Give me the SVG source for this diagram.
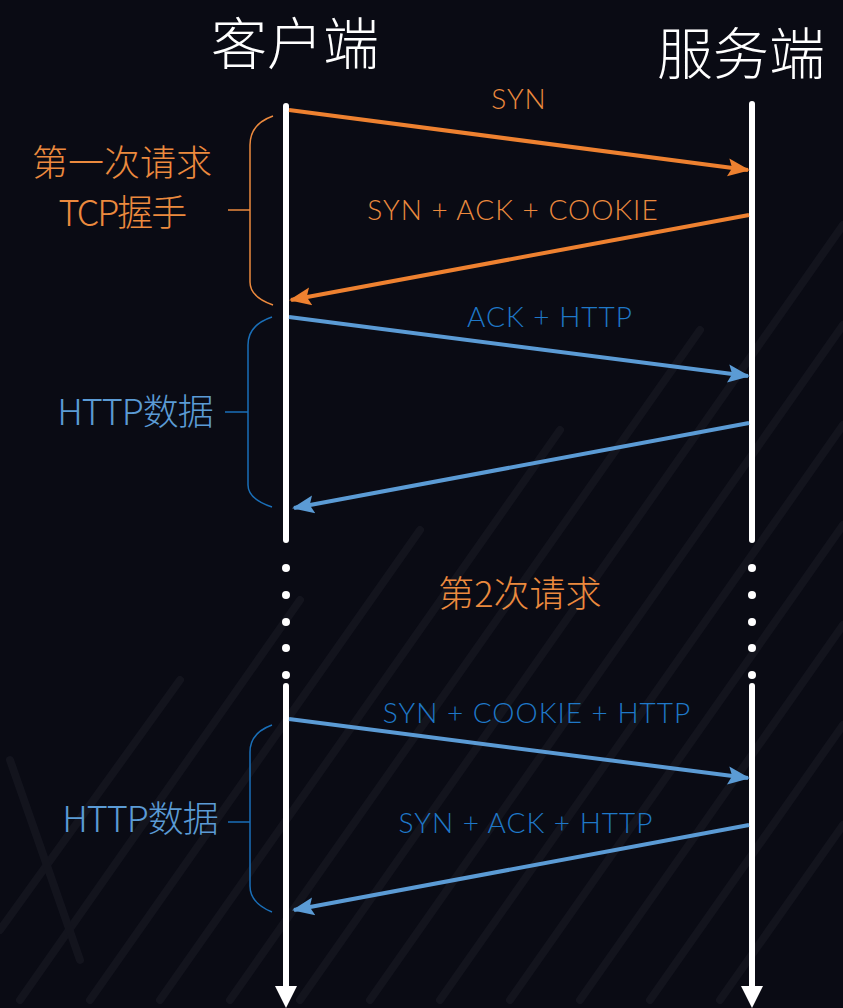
<svg xmlns="http://www.w3.org/2000/svg" width="843" height="1008" viewBox="0 0 843 1008">
<defs>
<style>
.title{font-family:"Noto Sans CJK SC","Noto Sans",sans-serif;font-weight:300;font-size:56px;fill:#ffffff}
.lbl{font-family:"Lato","Liberation Sans",sans-serif;font-weight:300;font-size:28px;letter-spacing:1px}
.cj{font-family:"Noto Sans CJK SC",sans-serif;font-weight:300;font-size:36px}
.or{fill:#ec8a3e}
.bl{fill:#1f78c8}
.lb{fill:#5b9bd5}
.life{stroke:#ffffff;stroke-width:6;stroke-linecap:round;fill:none}
.dot{fill:#ffffff}
.ao{stroke:#ee8130;stroke-width:4;fill:none}
.ab{stroke:#5b9bd5;stroke-width:4;fill:none}
.bro{stroke:#ec8a3e;stroke-width:1.5;fill:none}
.brb{stroke:#1a6fb8;stroke-width:1.5;fill:none}
.stripe{stroke:#171822;stroke-width:8;stroke-linecap:round}
</style>
<marker id="mo" markerUnits="userSpaceOnUse" markerWidth="24" markerHeight="24" viewBox="0 0 24 24" refX="20" refY="12" orient="auto">
<path d="M0,3 L22,12 L0,21 L4,12 Z" fill="#ee8130"/>
</marker>
<marker id="mb" markerUnits="userSpaceOnUse" markerWidth="24" markerHeight="24" viewBox="0 0 24 24" refX="20" refY="12" orient="auto">
<path d="M0,3 L22,12 L0,21 L4,12 Z" fill="#5b9bd5"/>
</marker>
</defs>
<rect width="843" height="1008" fill="#0a0b14"/>
<g id="background-stripes" opacity="0.7">
<line class="stripe" x1="20" y1="1000" x2="300" y2="600"/>
<line class="stripe" x1="90" y1="1000" x2="420" y2="530"/>
<line class="stripe" x1="160" y1="1000" x2="560" y2="430"/>
<line class="stripe" x1="230" y1="1000" x2="700" y2="330"/>
<line class="stripe" x1="300" y1="1000" x2="843" y2="225"/>
<line class="stripe" x1="370" y1="1000" x2="843" y2="325"/>
<line class="stripe" x1="440" y1="1000" x2="843" y2="425"/>
<line class="stripe" x1="510" y1="1000" x2="843" y2="525"/>
<line class="stripe" x1="580" y1="1000" x2="843" y2="625"/>
<line class="stripe" x1="650" y1="1000" x2="843" y2="725"/>
<line class="stripe" x1="720" y1="1000" x2="843" y2="825"/>
<line class="stripe" x1="0" y1="930" x2="180" y2="680"/>
<line class="stripe" x1="10" y1="760" x2="80" y2="960"/>
</g>
<g id="client">
<text class="title" x="295" y="64" text-anchor="middle">客户端</text>
<line class="life" x1="286" y1="106" x2="286" y2="540"/>
<circle class="dot" cx="286" cy="568" r="4"/>
<circle class="dot" cx="286" cy="595" r="4"/>
<circle class="dot" cx="286" cy="622" r="4"/>
<circle class="dot" cx="286" cy="648" r="4"/>
<circle class="dot" cx="286" cy="675" r="4"/>
<line class="life" x1="286" y1="686" x2="286" y2="990" stroke-linecap="butt"/>
<path d="M275,986 L297,986 L286,1008 Z" fill="#ffffff"/>
</g>
<g id="server">
<text class="title" x="741" y="74" text-anchor="middle">服务端</text>
<line class="life" x1="752" y1="104" x2="752" y2="540"/>
<circle class="dot" cx="752" cy="568" r="4"/>
<circle class="dot" cx="752" cy="595" r="4"/>
<circle class="dot" cx="752" cy="622" r="4"/>
<circle class="dot" cx="752" cy="648" r="4"/>
<circle class="dot" cx="752" cy="675" r="4"/>
<line class="life" x1="752" y1="686" x2="752" y2="990" stroke-linecap="butt"/>
<path d="M741,986 L763,986 L752,1008 Z" fill="#ffffff"/>
</g>
<g id="brace-tcp">
<path class="bro" d="M273,116 Q250,124 250,145 L250,282 Q250,297 273,305 M228,210 L250,210"/>
<text class="cj or" x="122" y="176" text-anchor="middle">第一次请求</text>
<text class="cj or" x="122" y="226" text-anchor="middle" letter-spacing="-2">TCP握手</text>
</g>
<g id="brace-http1">
<path class="brb" d="M272,317 Q248,325 248,345 L248,485 Q248,499 272,507 M225,412 L248,412"/>
<text class="cj lb" x="135" y="425" text-anchor="middle" letter-spacing="-1">HTTP数据</text>
</g>
<g id="second-request">
<text class="cj or" x="520" y="607" text-anchor="middle">第2次请求</text>
</g>
<g id="brace-http2">
<path class="brb" d="M272,725 Q250,733 250,752 L250,886 Q250,903 272,912 M228,822 L250,822"/>
<text class="cj lb" x="140" y="832" text-anchor="middle" letter-spacing="-1">HTTP数据</text>
</g>
<g id="connectors">
<line class="ao" x1="289" y1="110" x2="748" y2="170" marker-end="url(#mo)"/>
<line class="ao" x1="749" y1="215" x2="291" y2="300" marker-end="url(#mo)"/>
<line class="ab" x1="289" y1="317" x2="748" y2="376" marker-end="url(#mb)"/>
<line class="ab" x1="749" y1="423" x2="294" y2="508" marker-end="url(#mb)"/>
<line class="ab" x1="289" y1="719" x2="748" y2="778" marker-end="url(#mb)"/>
<line class="ab" x1="749" y1="825" x2="294" y2="910" marker-end="url(#mb)"/>
</g>
<g id="labels">
<text class="lbl or" x="519" y="109" text-anchor="middle">SYN</text>
<text class="lbl or" x="513" y="220" text-anchor="middle">SYN + ACK + COOKIE</text>
<text class="lbl bl" x="550" y="327" text-anchor="middle">ACK + HTTP</text>
<text class="lbl bl" x="537" y="723" text-anchor="middle">SYN + COOKIE + HTTP</text>
<text class="lbl bl" x="526" y="833" text-anchor="middle">SYN + ACK + HTTP</text>
</g>
</svg>
